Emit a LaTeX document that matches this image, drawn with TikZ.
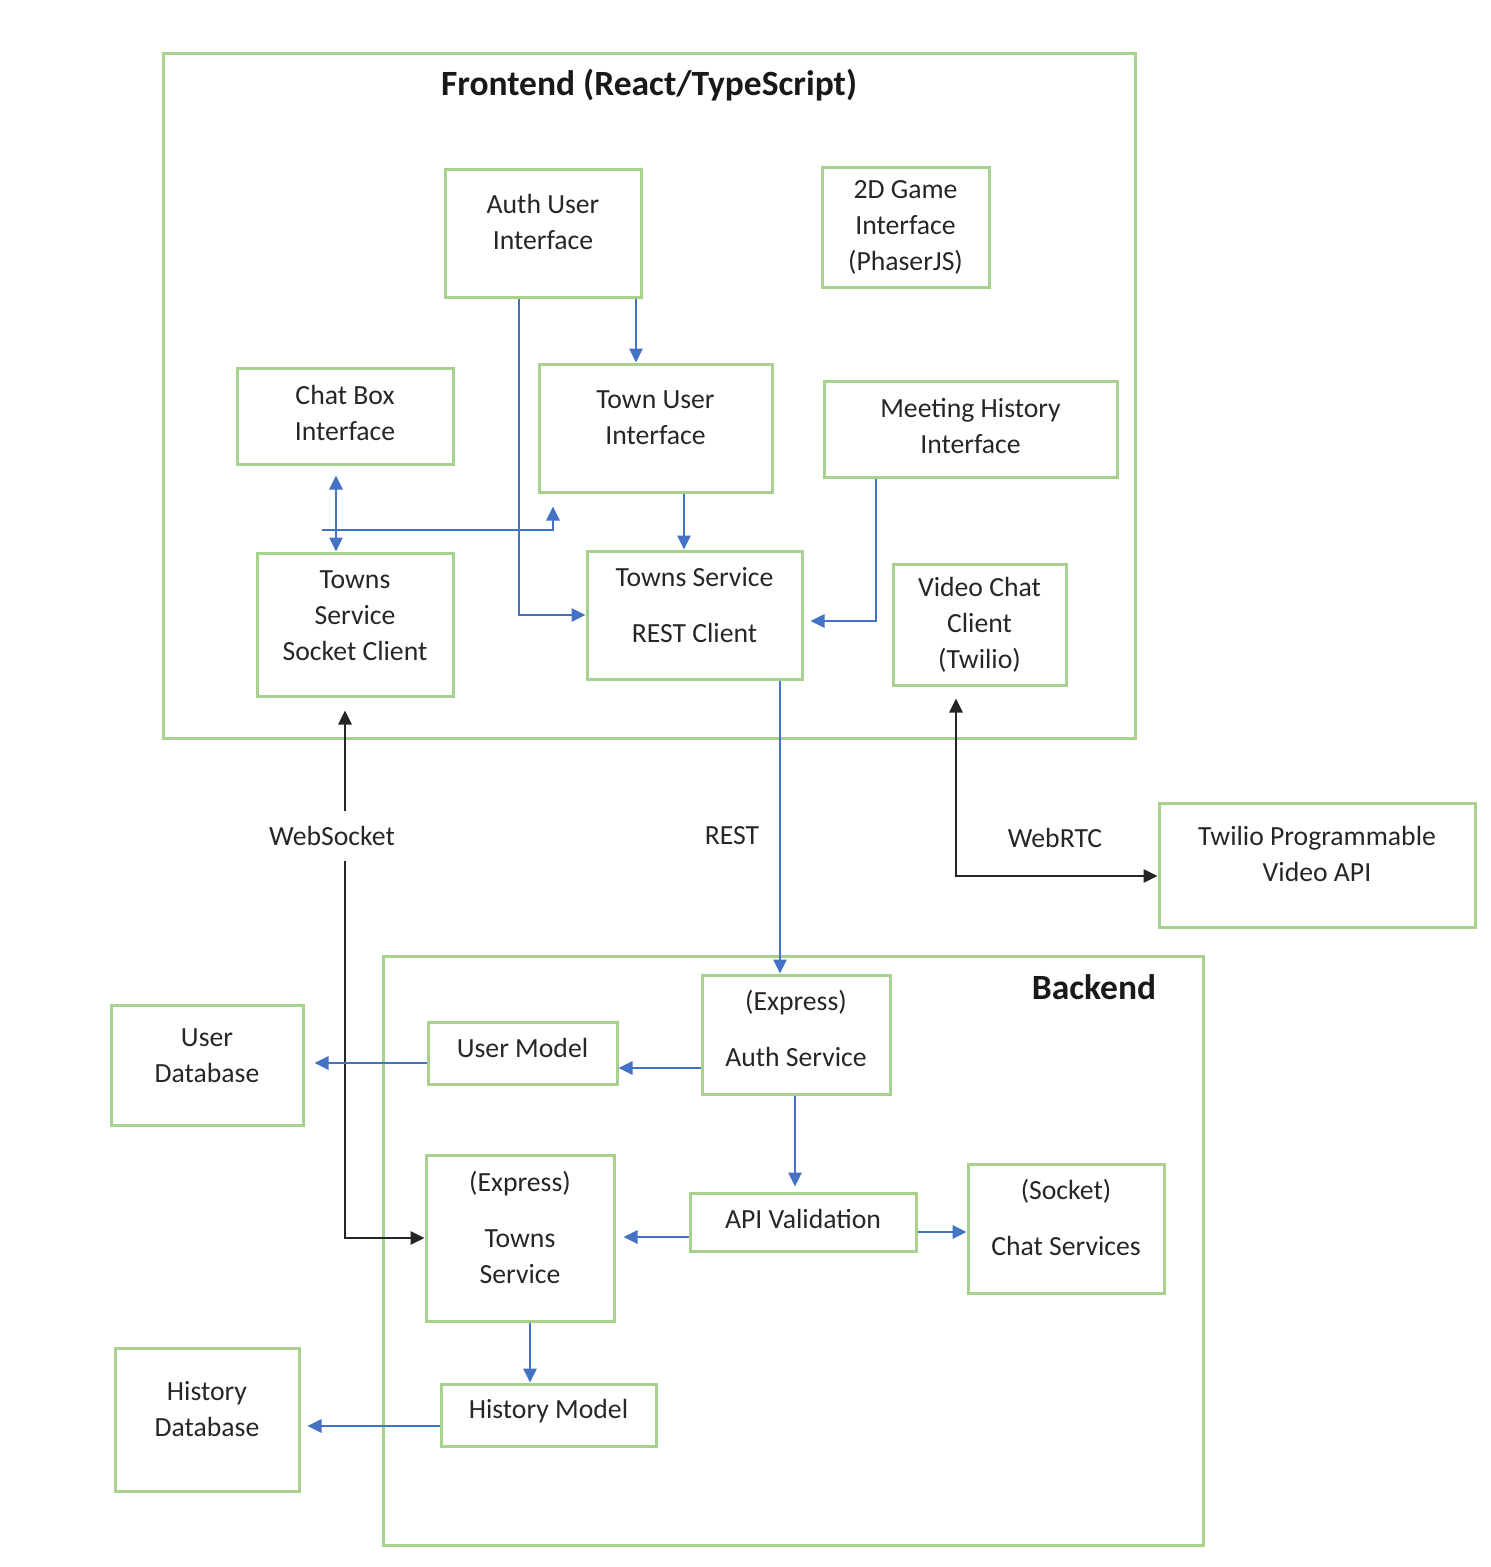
\documentclass[tikz,border=0pt]{standalone}
\usepackage{fontspec}
\setmainfont{Carlito}
\usetikzlibrary{arrows.meta}
\definecolor{boxgreen}{RGB}{169,209,142}
\definecolor{flowblue}{RGB}{68,114,196}
\tikzstyle{block} = [draw=boxgreen, line width=3pt, align=center, text=black!85, font=\fontsize{27.7}{36}\selectfont, inner sep=0pt]
\tikzstyle{lift} = [execute at end node={\rule[-#1]{0pt}{0pt}}]
\tikzstyle{tag} = [text=black!85, font=\fontsize{27.7}{36}\selectfont]
\tikzstyle{flow} = [draw=flowblue, line width=2.7pt, ->]
\tikzstyle{wire} = [draw=black!85, line width=2.7pt, ->]

\begin{document}
\begin{tikzpicture}[x=1pt, y=-1pt, >={Triangle[length=14pt,width=13pt]}]
        \tikzstyle{title} = [text=black!90, font=\bfseries\fontsize{35.5}{40}\selectfont]
        \useasboundingbox (0,0) rectangle (1491,1567);

        % containers
        \node[block, minimum width=972pt, minimum height=685pt] (front) at (649,395.5) {};
        \node[block, minimum width=820pt, minimum height=589pt] (back) at (793,1250.5) {};
        \node[title] (ftitle) at (649,85) {Frontend (React/TypeScript)};
        \node[title] (btitle) at (1094,987) {Backend};

        % frontend
        \node[block, lift=22pt, minimum width=196pt, minimum height=128pt] (authui) at (543,233) {Auth User\\Interface};
        \node[block, minimum width=167pt, minimum height=120pt] (game) at (905.5,227) {2D Game\\Interface\\(PhaserJS)};
        \node[block, lift=7pt, minimum width=216pt, minimum height=96pt] (chatbox) at (345,416) {Chat Box\\Interface};
        \node[block, lift=21pt, minimum width=233pt, minimum height=128pt] (townui) at (655.5,428) {Town User\\Interface};
        \node[block, lift=7pt, minimum width=293pt, minimum height=96pt] (meeting) at (970.5,429) {Meeting History\\Interface};
        \node[block, lift=17pt, minimum width=196pt, minimum height=143pt] (sockcl) at (355,624.5) {Towns\\Service\\Socket Client};
        \node[block, lift=20pt, minimum width=215pt, minimum height=128pt] (restcl) at (694.5,615) {Towns Service\\[20pt]REST Client};
        \node[block, minimum width=173pt, minimum height=121pt] (video) at (979.5,624.5) {Video Chat\\Client\\(Twilio)};
        \node[block, lift=23pt, minimum width=316pt, minimum height=124pt] (twilio) at (1317,865) {Twilio Programmable\\Video API};

        % backend
        \node[block, lift=12pt, minimum width=188pt, minimum height=119pt] (authsvc) at (796,1034.5) {(Express)\\[20pt]Auth Service};
        \node[block, lift=10pt, minimum width=189pt, minimum height=62pt] (usermodel) at (522.5,1053) {User Model};
        \node[block, lift=19pt, minimum width=192pt, minimum height=120pt] (userdb) at (207,1065) {User\\Database};
        \node[block, lift=22pt, minimum width=188pt, minimum height=166pt] (townsvc) at (520,1238) {(Express)\\[20pt]Towns\\Service};
        \node[block, lift=6pt, minimum width=226pt, minimum height=58pt] (apival) at (803,1222) {API Validation};
        \node[block, lift=22pt, minimum width=196pt, minimum height=129pt] (chatsvc) at (1066,1228.5) {(Socket)\\[20pt]Chat Services};
        \node[block, lift=12pt, minimum width=215pt, minimum height=62pt] (histmodel) at (548.5,1415) {History Model};
        \node[block, lift=21pt, minimum width=184pt, minimum height=143pt] (histdb) at (207,1419.5) {History\\Database};

        % link labels
        \node[tag, inner ysep=15pt] (ws) at (332,836) {WebSocket};
        \node[tag] (rest) at (732,836) {REST};
        \node[tag] (rtc) at (1055,838) {WebRTC};
        \coordinate (sockstub) at (322,530);

        % frontend links
        \draw[flow] ([xshift=93pt]authui.south) -- ([xshift=-19.5pt]townui.north);
        \draw[flow] ([xshift=-24pt]authui.south) |- (restcl.west);
        \draw[flow, <->, shorten <=10pt] ([xshift=-9pt]chatbox.south) -- ([xshift=-19pt]sockcl.north);
        \draw[flow, shorten >=13pt] (sockstub) -| ([xshift=-102.5pt]townui.south);
        \draw[flow] ([xshift=28.5pt]townui.south) -- ([xshift=-10.5pt]restcl.north);
        \draw[flow, shorten >=7pt] ([xshift=-94.5pt]meeting.south) |- ([yshift=-6pt]restcl.east);

        % frontend to backend
        \draw[flow] ([xshift=85.5pt]restcl.south) -- ([xshift=-16pt]authsvc.north);
        \draw[wire, <-, shorten <=13pt] ([xshift=-10pt]sockcl.south) -- ([xshift=-10pt]sockcl.south |- ws.north);
        \draw[wire] ([xshift=-10pt]sockcl.south |- ws.south) |- (townsvc.west);
        \draw[wire, <->, shorten <=12pt] ([xshift=-23.5pt]video.south) |- ([yshift=-11pt]twilio.west);

        % backend links
        \draw[flow] ([yshift=-33.5pt]authsvc.west) -- ([yshift=-15pt]usermodel.east);
        \draw[flow, shorten >=10pt] ([yshift=-10pt]usermodel.west) -- ([yshift=2pt]userdb.east);
        \draw[flow, shorten >=5pt] ([xshift=-1pt]authsvc.south) -- ([xshift=-8pt]apival.north);
        \draw[flow, shorten >=8pt] ([yshift=-15pt]apival.west) -- ([yshift=1pt]townsvc.east);
        \draw[flow] ([yshift=-10pt]apival.east) -- ([yshift=-3.5pt]chatsvc.west);
        \draw[flow] ([xshift=10pt]townsvc.south) -- ([xshift=-18.5pt]histmodel.north);
        \draw[flow, shorten >=7pt] ([yshift=-11pt]histmodel.west) -- ([yshift=-6.5pt]histdb.east);
    \end{tikzpicture}
\end{document}
